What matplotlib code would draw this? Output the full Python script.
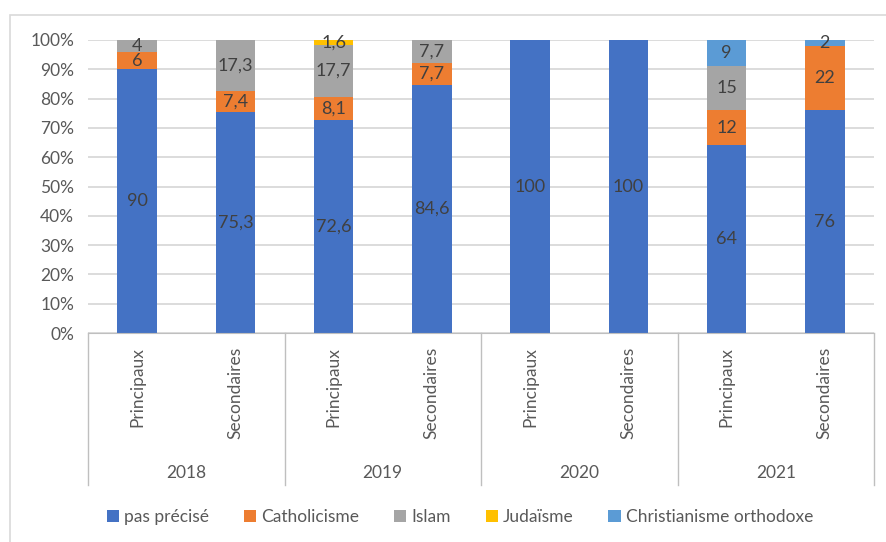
import matplotlib.pyplot as plt
from matplotlib.patches import Rectangle

# Données (en %)
annees = ["2018", "2019", "2020", "2021"]
types = ["Principaux", "Secondaires"]
series = ["pas précisé", "Catholicisme", "Islam", "Judaïsme", "Christianisme orthodoxe"]
pas_precise = [90, 75.3, 72.6, 84.6, 100, 100, 64, 76]
catholicisme = [6, 7.4, 8.1, 7.7, 0, 0, 12, 22]
islam = [4, 17.3, 17.7, 7.7, 0, 0, 15, 0]
judaisme = [0, 0, 1.6, 0, 0, 0, 0, 0]
orthodoxe = [0, 0, 0, 0, 0, 0, 9, 2]
couleurs = ["#4472C4", "#ED7D31", "#A5A5A5", "#FFC000", "#5B9BD5"]

plt.rcParams['font.family'] = ['Lato', 'DejaVu Sans']
gris = "#595959"

fig = plt.figure(figsize=(8.86, 5.42), dpi=100)
ax = fig.add_axes([88 / 886, 1 - 333 / 542, (874 - 88) / 886, 293 / 542])

# cadre du graphique
fig.patches.append(Rectangle((10 / 886, -0.1), 1.2, 1 - 15 / 542 + 0.1, transform=fig.transFigure,
                             fill=False, edgecolor="#D9D9D9", linewidth=1.2))

x = list(range(len(pas_precise)))
valeurs = [pas_precise, catholicisme, islam, judaisme, orthodoxe]
bas = [0] * len(x)
for nom, vals, c in zip(series, valeurs, couleurs):
    barres = ax.bar(x, vals, 0.4, bottom=bas, color=c, label=nom, zorder=3)
    for b, v, y0 in zip(barres, vals, bas):
        if v > 0:
            txt = ("%g" % v).replace(".", ",")
            ax.text(b.get_x() + b.get_width() / 2, y0 + v / 2, txt, ha="center", va="center",
                    fontsize=13, color="#404040", zorder=4)
    bas = [a + b for a, b in zip(bas, vals)]

ax.set_xlim(-0.5, 7.5)
ax.set_ylim(0, 100)
ax.set_yticks(range(0, 101, 10))
ax.set_yticklabels(["%d%%" % t for t in range(0, 101, 10)], fontsize=12.5, color=gris)
ax.tick_params(axis="y", length=0, pad=10)
ax.set_xticks([])
ax.grid(axis="y", color="#D9D9D9", linewidth=1.3, zorder=0)
for s in ["top", "right", "left"]:
    ax.spines[s].set_visible(False)
ax.spines["bottom"].set_color("#BFBFBF")
ax.spines["bottom"].set_zorder(5)

# axe des catégories à deux niveaux
tr = ax.get_xaxis_transform()
for xs in [-0.5, 1.5, 3.5, 5.5, 7.5]:
    ax.plot([xs, xs], [0, -0.52], transform=tr, color="#BFBFBF", linewidth=1, clip_on=False)
for i in x:
    ax.text(i, -0.048, types[i % 2], transform=tr, rotation=90, ha="center", va="top",
            fontsize=12.5, color=gris)
for j, a in enumerate(annees):
    ax.text(2 * j + 0.5, -0.478, a, transform=tr, ha="center", va="center", fontsize=12.5, color=gris)

fig.legend(loc="center", bbox_to_anchor=(460 / 886, 1 - 517 / 542), ncol=5, frameon=False,
           fontsize=12.5, handlelength=0.7, handleheight=0.7, handletextpad=0.3, columnspacing=2.0,
           labelcolor=gris)

fig.savefig("out.png", dpi=100)
